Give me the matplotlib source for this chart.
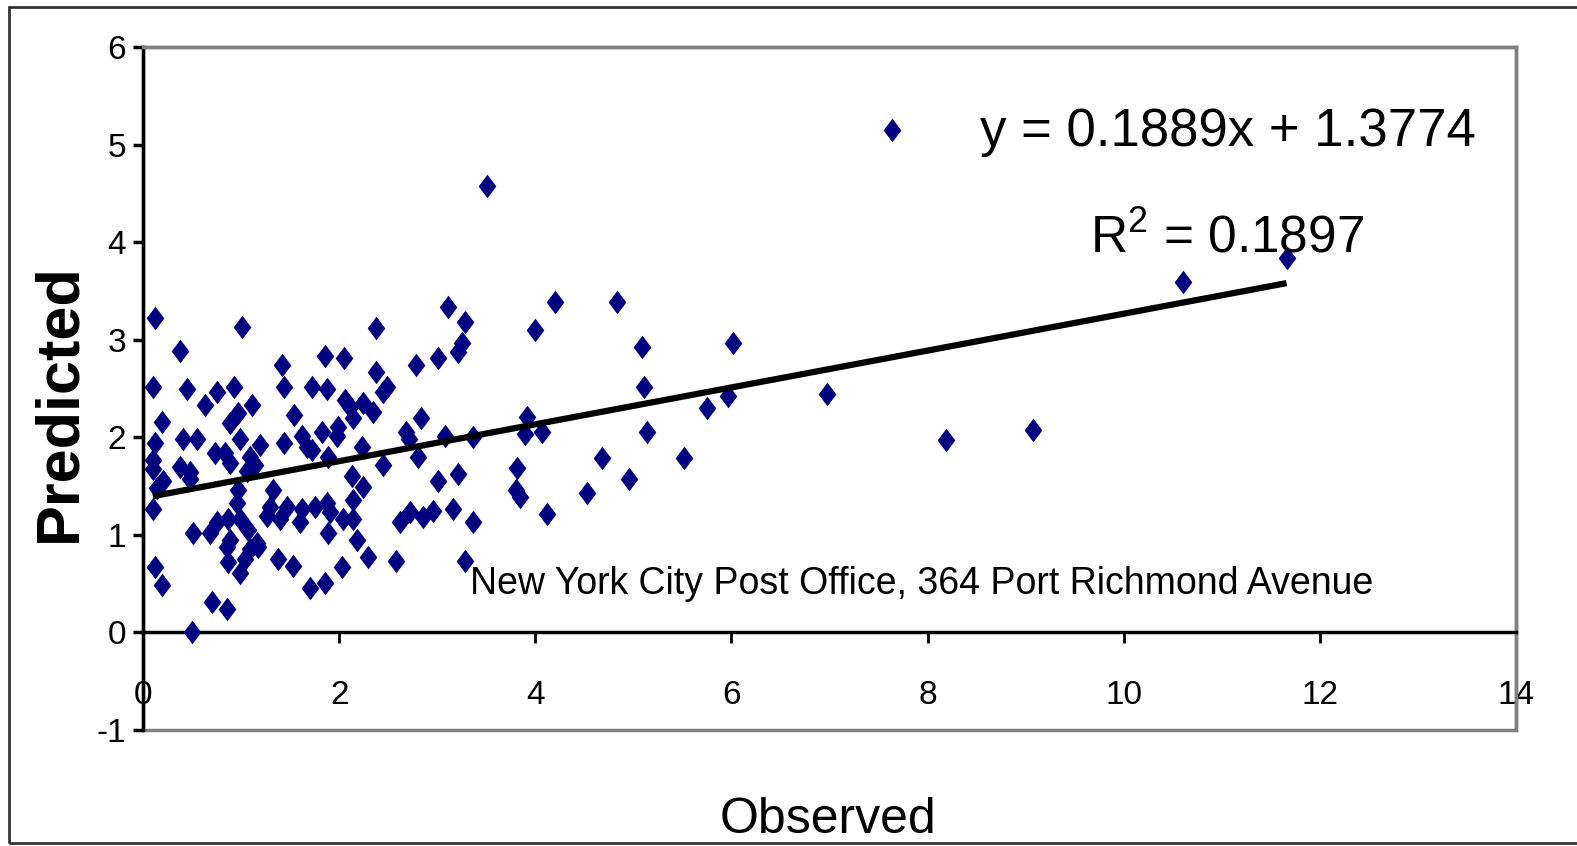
import matplotlib
matplotlib.use('Agg')
import matplotlib.pyplot as plt
from matplotlib.patches import Rectangle
from matplotlib.path import Path

# observed vs predicted values
observed = [
    0.12, 1.01, 0.38, 1.42, 0.10, 0.45, 0.75, 0.93, 1.44, 1.72, 0.63, 1.11, 0.97, 0.89, 1.54, 0.19,
    1.86, 1.88, 0.12, 0.41, 0.55, 0.99, 1.19, 1.44, 1.62, 1.83, 0.73, 0.84, 0.89, 0.10, 0.10, 0.38,
    0.48, 1.09, 1.14, 1.06, 1.67, 1.72, 0.20, 0.14, 0.48, 0.10, 0.97, 0.96, 0.99, 0.87, 0.75, 0.51,
    0.68, 1.07, 0.89, 1.30, 1.26, 1.47, 1.62, 1.75, 1.88, 1.40, 1.60, 1.33, 1.16, 0.86, 0.87, 1.04,
    0.99, 1.09, 1.17, 1.38, 1.53, 1.70, 1.86, 0.12, 0.19, 0.70, 0.86, 0.50,
    3.11, 3.28, 3.25, 3.21, 2.38, 2.05, 2.78, 3.01, 2.38, 2.49, 2.45, 2.06, 2.11, 2.24, 2.35, 2.14,
    1.99, 1.98, 2.83, 2.68, 2.71, 3.08, 3.36, 2.80, 2.23, 2.45, 1.89, 3.01, 3.21, 2.13, 2.24, 2.14,
    2.14, 2.04, 1.91, 1.89, 2.18, 2.62, 2.72, 2.86, 2.96, 3.16, 3.36, 2.29, 2.58, 3.28, 2.03,
    3.81, 3.84, 3.80, 3.90, 3.92, 4.07, 4.12, 4.00, 4.20, 4.83, 5.09, 5.11, 5.14, 4.68, 4.96, 4.53,
    5.52, 5.75, 5.97, 6.02,
    3.51, 6.97, 7.64, 8.19, 9.07, 10.60, 11.66,
]
predicted = [
    3.22, 3.13, 2.88, 2.74, 2.52, 2.49, 2.46, 2.52, 2.52, 2.52, 2.33, 2.33, 2.25, 2.15, 2.23, 2.16,
    2.83, 2.49, 1.94, 1.98, 1.98, 1.98, 1.92, 1.94, 2.01, 2.05, 1.84, 1.84, 1.74, 1.77, 1.67, 1.70,
    1.64, 1.80, 1.72, 1.65, 1.90, 1.87, 1.55, 1.48, 1.57, 1.26, 1.46, 1.33, 1.16, 1.16, 1.13, 1.02,
    1.02, 1.05, 0.95, 1.29, 1.19, 1.29, 1.26, 1.29, 1.33, 1.16, 1.13, 1.46, 0.92, 0.88, 0.72, 0.75,
    0.61, 0.85, 0.88, 0.75, 0.68, 0.46, 0.51, 0.67, 0.49, 0.31, 0.24, 0.00,
    3.34, 3.18, 2.97, 2.87, 3.12, 2.81, 2.74, 2.81, 2.67, 2.52, 2.46, 2.38, 2.31, 2.35, 2.26, 2.20,
    2.11, 2.01, 2.20, 2.05, 1.98, 2.01, 2.00, 1.80, 1.90, 1.72, 1.80, 1.55, 1.62, 1.60, 1.49, 1.36,
    1.16, 1.16, 1.23, 1.02, 0.95, 1.13, 1.23, 1.18, 1.24, 1.26, 1.13, 0.77, 0.73, 0.73, 0.67,
    1.69, 1.39, 1.46, 2.03, 2.21, 2.05, 1.21, 3.10, 3.39, 3.39, 2.93, 2.52, 2.05, 1.79, 1.57, 1.43,
    1.79, 2.30, 2.42, 2.97,
    4.58, 2.44, 5.15, 1.97, 2.07, 3.59, 3.84,
]

slope = 0.1889
intercept = 1.3774
r_squared = 0.1897
x_ticks = [0, 2, 4, 6, 8, 10, 12, 14]
y_ticks = [-1, 0, 1, 2, 3, 4, 5, 6]

plt.rcParams['font.family'] = ['Liberation Sans', 'DejaVu Sans']
plt.rcParams['mathtext.fontset'] = 'custom'
plt.rcParams['mathtext.rm'] = 'Liberation Sans'

fig = plt.figure(figsize=(15.77, 8.46), dpi=100)
W, H = 1577, 846
ax = fig.add_axes([143 / W, 1 - 730 / H, (1516 - 143) / W, (730 - 47) / H])

# diamond marker like the spreadsheet one
diamond = Path([(0, 1), (0.75, 0), (0, -1), (-0.75, 0), (0, 1)],
               [Path.MOVETO, Path.LINETO, Path.LINETO, Path.LINETO, Path.CLOSEPOLY])
ax.plot(observed, predicted, linestyle='none', marker=diamond, markersize=17,
        color='#000080', markeredgewidth=0, zorder=3)

x0, x1 = min(observed), max(observed)
ax.plot([x0, x1], [slope * x0 + intercept, slope * x1 + intercept],
        color='black', lw=4.5, zorder=4, solid_capstyle='butt')

ax.set_xlim(0, 14)
ax.set_ylim(-1, 6)
ax.set_xticks(x_ticks)
ax.set_yticks(y_ticks)
ax.set_xticklabels([str(t) for t in x_ticks])
ax.set_yticklabels([str(t) for t in y_ticks])

for s in ['top', 'right']:
    ax.spines[s].set_color('#808080')
    ax.spines[s].set_linewidth(2.5)
ax.spines['left'].set_color('black')
ax.spines['left'].set_linewidth(2.5)
ax.spines['bottom'].set_position(('data', 0))
ax.spines['bottom'].set_color('black')
ax.spines['bottom'].set_linewidth(2.5)
ax.add_patch(Rectangle((0, 0), 1, 1, transform=ax.transAxes, fill=False,
                       ec='#808080', lw=2.5, clip_on=False, zorder=1))

ax.tick_params(axis='y', direction='out', length=7, width=2.5, pad=5, labelsize=24)
ax.tick_params(axis='x', direction='out', length=8, width=2, pad=26, labelsize=24)

ax.text(8.53, 4.99, 'y = %.4fx + %.4f' % (slope, intercept), fontsize=38,
        ha='left', va='baseline')
ax.text(9.66, 3.89, 'R$^{2}$ = %.4f' % r_squared, fontsize=37,
        ha='left', va='baseline')
ax.text(7.94, 0.39, 'New York City Post Office, 364 Port Richmond Avenue',
        fontsize=27, ha='center', va='baseline')

fig.text(60 / W, 1 - 403 / H, 'Predicted', rotation=90, fontsize=44,
         fontweight='bold', ha='center', va='center')
fig.text(828 / W, 1 - 843 / H, 'Observed', fontsize=36, ha='center', va='bottom')

# outer border of the chart area
fig.add_artist(Rectangle((9 / W, 3 / H), 1.0, 1 - 10 / H, transform=fig.transFigure,
                         fill=False, ec='#333333', lw=2, clip_on=True))

plt.savefig('out.png', dpi=100)
